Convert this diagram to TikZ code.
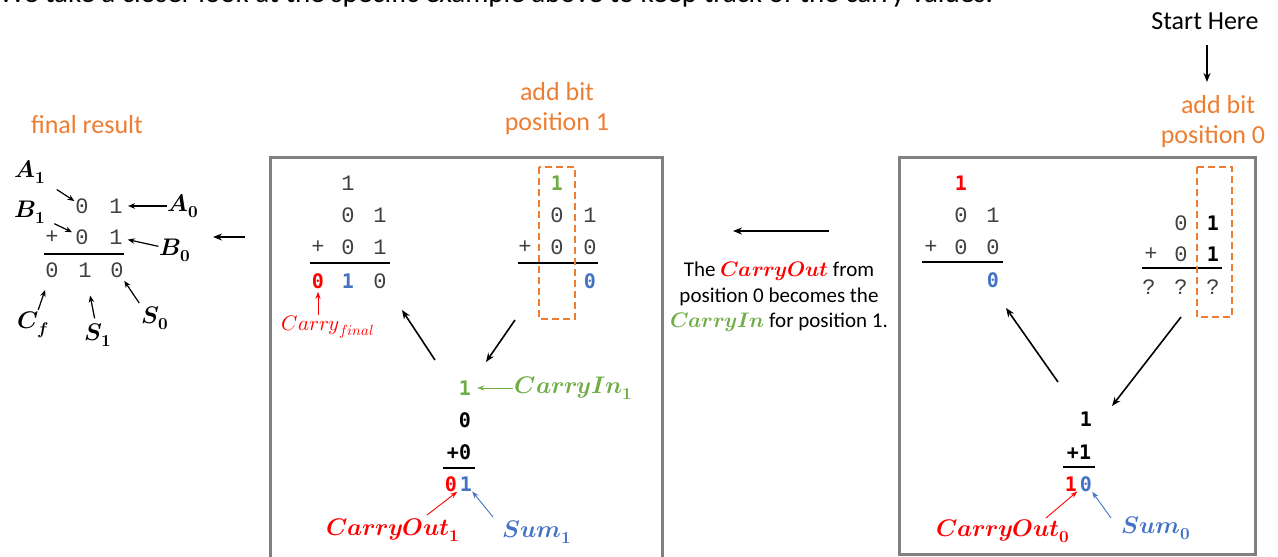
\documentclass[tikz,border=0pt]{standalone}
\usepackage{fontspec}
\usepackage{unicode-math}
\setmainfont{Carlito}
\setmathfont{Latin Modern Math}
\newfontfamily\lmono{Liberation Mono}
\newfontfamily\bmono{DejaVu Sans Mono}
\usetikzlibrary{arrows.meta}
\definecolor{orng}{HTML}{ED7D31}
\definecolor{cgreen}{HTML}{70AD47}
\definecolor{cblue}{HTML}{4472C4}
\definecolor{cred}{HTML}{FF0000}
\definecolor{boxgray}{HTML}{808080}
\definecolor{dgray}{HTML}{404040}
\newcommand{\bl}[2]{$\symbfit{#1}_{\symbf{#2}}$}
\tikzset{
  dg/.style={font=\lmono\fontsize{22}{22}\selectfont, text=dgray, inner sep=0pt},
  bd/.style={font=\bmono\bfseries\fontsize{20}{20}\selectfont, inner sep=0pt},
  lab/.style={font=\fontsize{24}{24}\selectfont, inner sep=0pt},
  orlab/.style={font=\fontsize{26}{26}\selectfont, text=orng, inner sep=0pt},
  bigarr/.style={-{Stealth[length=9pt,width=7pt]}, line width=1.6pt},
  tarr/.style={-{Stealth[length=7pt,width=5.5pt]}, line width=1.2pt},
  carr/.style={-{Stealth[length=7pt,width=5pt]}, line width=0.9pt},
  frame/.style={draw=boxgray, line width=3pt},
  obox/.style={draw=orng, dash pattern=on 7pt off 4pt, line width=2.6pt},
  sumline/.style={line width=1.2pt},
}
\begin{document}
\begin{tikzpicture}[x=1pt,y=-1pt]
\useasboundingbox (0,0) rectangle (1278,557);
\clip (0,0) rectangle (1278,557);

% cut-off top line
\node[anchor=base east, font=\fontsize{29}{29}\selectfont, inner sep=0pt] (topline) at (993,2.5) {We take a closer look at the specific example above to keep track of the carry values.};

% headings
\node[font=\fontsize{26}{26}\selectfont, inner sep=0pt] (start) at (1205,21) {Start Here};
\draw[bigarr] (1207,45) -- (1207,82);
\node[orlab] (h0a) at (1218,105) {add bit};
\node[orlab] (h0b) at (1213,137) {position 0};
\node[orlab] (h1a) at (557,92) {add bit};
\node[orlab] (h1b) at (557,124) {position 1};
\node[orlab] (hf) at (87,125) {final result};

% ---------------- final result ----------------
\node[lab] (A1) at (30,172) {\bl{A}{1}};
\node[lab] (B1) at (30,212) {\bl{B}{1}};
\node[lab] (A0) at (183,206) {\bl{A}{0}};
\node[lab] (B0) at (175,250) {\bl{B}{0}};
\node[lab] (Cf) at (33,325) {$\symbfit{C}_{\symbfit{f}}$};
\node[lab] (S1) at (98,335) {\bl{S}{1}};
\node[lab] (S0) at (155,318) {\bl{S}{0}};
\node[dg] (fa0) at (82,206) {0};
\node[dg] (fa1) at (116,206) {1};
\node[dg] (fbp) at (52,237) {+};
\node[dg] (fb0) at (82,237) {0};
\node[dg] (fb1) at (116,237) {1};
\node[dg] (fr2) at (52,270) {0};
\node[dg] (fr1) at (85,270) {1};
\node[dg] (fr0) at (117,270) {0};
\draw[sumline] (44,254) -- (124,254);
\draw[tarr, shorten <=32pt, shorten >=9pt] (A1.center) -- (fa0.center);
\draw[tarr, shorten <=16pt, shorten >=12pt] (A0.center) -- (fa1.center);
\draw[tarr, shorten <=27pt, shorten >=11pt] (B1.center) -- (fb0.center);
\draw[tarr, shorten <=17pt, shorten >=12pt] (B0.center) -- (fb1.center);
\draw[tarr, shorten <=16pt, shorten >=21pt] (Cf.center) -- (fr2.center);
\draw[tarr, shorten <=17pt, shorten >=26pt] (S1.center) -- (fr1.center);
\draw[tarr, shorten <=4pt, shorten >=13pt] (S0.north west) -- (fr0.center);
\coordinate (lbL) at (213,237);
\coordinate (lbR) at (245,237);
\draw[bigarr] (lbR) -- (lbL);

% ---------------- box position 1 ----------------
\draw[frame] (270,157) rectangle (662,600);
% left addition
\node[dg] (p1c) at (348,183) {1};
\node[dg] (p1a0) at (348,215) {0};
\node[dg] (p1a1) at (380,215) {1};
\node[dg] (p1bp) at (318,247) {+};
\node[dg] (p1b0) at (348,247) {0};
\node[dg] (p1b1) at (380,247) {1};
\draw[sumline] (310,263) -- (390,263);
\node[bd, text=cred] (p1r2) at (318,281) {0};
\node[bd, text=cblue] (p1r1) at (348,281) {1};
\node[dg] (p1r0) at (380,281) {0};
\node[font=\fontsize{21}{21}\selectfont, text=cred, inner sep=0pt] (cfin) at (328,327) {$Carry_{final}$};
\draw[carr, cred, shorten >=3pt] (p1r2 |- cfin.north) -- (p1r2.south);
% right addition
\node[bd, text=cgreen] (q1c) at (557,183) {1};
\node[dg] (q1a0) at (557,215) {0};
\node[dg] (q1a1) at (590,215) {1};
\node[dg] (q1bp) at (525,247) {+};
\node[dg] (q1b0) at (557,247) {0};
\node[dg] (q1b1) at (590,247) {0};
\draw[sumline] (518,263) -- (598,263);
\node[bd, text=cblue] (q1r0) at (590,281) {0};
\draw[obox] (539,167) rectangle (575,319);
% arrows
\coordinate (m1a) at (435,360);
\coordinate (m1b) at (402,310);
\coordinate (m1c) at (515,320);
\coordinate (m1d) at (486,362);
\draw[bigarr] (m1a) -- (m1b);
\draw[bigarr] (m1c) -- (m1d);
% column addition
\node[bd, text=cgreen] (c1in) at (465,388) {1};
\node[lab, text=cgreen] (cin1) at (574,388) {\bl{CarryIn}{1}};
\draw[carr, cgreen, shorten <=2pt, shorten >=6pt] (cin1.west) -- (c1in.east);
\node[bd] (c1a) at (465,420) {0};
\node[bd] (c1b) at (459,452) {+0};
\draw[sumline] (443,468) -- (475,468);
\node[bd, text=cred] (c1co) at (451,484) {0};
\node[bd, text=cblue] (c1s) at (466,484) {1};
\node[lab, text=cred] (co1) at (393,530) {\bl{CarryOut}{1}};
\node[lab, text=cblue] (sum1) at (537,532) {\bl{Sum}{1}};
\draw[carr, cred] (427,515) -- (c1co.south east);
\draw[carr, cblue] (493,517) -- (c1s.south east);

% ---------------- middle text ----------------
\node[align=center, font=\fontsize{21}{25.5}\selectfont, inner sep=0pt] (midtxt) at (779,297)
  {The \textcolor{cred}{$\symbfit{CarryOut}$} from\\position 0 becomes the\\\textcolor{cgreen}{$\symbfit{CarryIn}$} for position 1.};
\coordinate (mbR) at (829,231);
\coordinate (mbL) at (733,231);
\draw[bigarr] (mbR) -- (mbL);

% ---------------- box position 0 ----------------
\draw[frame] (899,157) rectangle (1255,554);
% left addition
\node[bd, text=cred] (p0c) at (961,183) {1};
\node[dg] (p0a0) at (961,215) {0};
\node[dg] (p0a1) at (993,215) {1};
\node[dg] (p0bp) at (931,247) {+};
\node[dg] (p0b0) at (961,247) {0};
\node[dg] (p0b1) at (993,247) {0};
\draw[sumline] (922,262) -- (1003,262);
\node[bd, text=cblue] (p0r0) at (993,280) {0};
% right addition
\node[dg] (q0a0) at (1181,223) {0};
\node[bd] (q0a1) at (1213,223) {1};
\node[dg] (q0bp) at (1151,254) {+};
\node[dg] (q0b0) at (1181,254) {0};
\node[bd] (q0b1) at (1213,254) {1};
\draw[sumline] (1142,268) -- (1222,268);
\node[dg] (q0r2) at (1149,287) {?};
\node[dg] (q0r1) at (1181,287) {?};
\node[dg] (q0r0) at (1213,287) {?};
\draw[obox] (1197,167) rectangle (1232,317);
% arrows
\coordinate (m0a) at (1058,382);
\coordinate (m0b) at (1006,308);
\coordinate (m0c) at (1181,317);
\coordinate (m0d) at (1112,406);
\draw[bigarr] (m0a) -- (m0b);
\draw[bigarr] (m0c) -- (m0d);
% column addition
\node[bd] (c0a) at (1086,419) {1};
\node[bd] (c0b) at (1079,452) {+1};
\draw[sumline] (1063,467) -- (1095,467);
\node[bd, text=cred] (c0co) at (1071,484) {1};
\node[bd, text=cblue] (c0s) at (1086,484) {0};
\node[lab, text=cred] (co0) at (1003,531) {\bl{CarryOut}{0}};
\node[lab, text=cblue] (sum0) at (1156,528) {\bl{Sum}{0}};
\draw[carr, cred] (1046,518) -- (c0co.south east);
\draw[carr, cblue] (1111,518) -- (c0s.south east);
\end{tikzpicture}
\end{document}
